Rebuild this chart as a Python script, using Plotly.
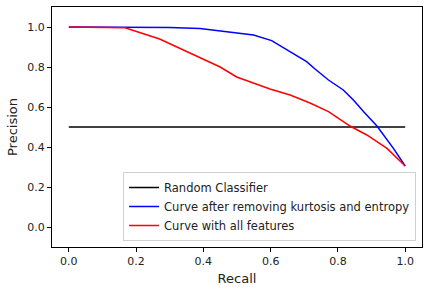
import plotly.graph_objects as go

blue_recall = [0.0, 0.2, 0.30, 0.39, 0.549, 0.603, 0.648, 0.707, 0.732, 0.772, 0.816, 0.846, 0.876, 0.916, 0.965, 1.0]
blue_precision = [1.0, 1.0, 0.998, 0.993, 0.96, 0.932, 0.885, 0.827, 0.79, 0.735, 0.685, 0.635, 0.577, 0.505, 0.393, 0.305]

red_recall = [0.0, 0.1, 0.167, 0.27, 0.35, 0.45, 0.499, 0.549, 0.598, 0.658, 0.717, 0.772, 0.836, 0.886, 0.946, 1.0]
red_precision = [1.0, 0.997, 0.996, 0.94, 0.877, 0.80, 0.75, 0.72, 0.69, 0.66, 0.62, 0.577, 0.505, 0.46, 0.393, 0.305]

random_recall = [0.0, 1.0]
random_precision = [0.5, 0.5]

x_ticks = [0.0, 0.2, 0.4, 0.6, 0.8, 1.0]
y_ticks = [0.0, 0.2, 0.4, 0.6, 0.8, 1.0]

fig = go.Figure()
fig.add_trace(go.Scatter(x=random_recall, y=random_precision, mode="lines",
                         line=dict(color="#000000", width=1.5), name="Random Classifier"))
fig.add_trace(go.Scatter(x=blue_recall, y=blue_precision, mode="lines",
                         line=dict(color="#0000ff", width=1.5),
                         name="Curve after removing kurtosis and entropy"))
fig.add_trace(go.Scatter(x=red_recall, y=red_precision, mode="lines",
                         line=dict(color="#ff0000", width=1.5), name="Curve with all features"))

axis_common = dict(showline=True, linecolor="black", linewidth=1, mirror=True,
                   showgrid=False, zeroline=False, ticks="outside", ticklen=4,
                   tickcolor="black", automargin=False,
                   tickfont=dict(family="DejaVu Sans", size=11, color="#222"))

fig.update_layout(
    width=429, height=292,
    margin=dict(l=52, r=7, t=7, b=45),
    paper_bgcolor="white", plot_bgcolor="white",
    xaxis=dict(range=[-0.05, 1.05], tickvals=x_ticks, ticktext=[f"{v:.1f}" for v in x_ticks],
               title=dict(text="Recall", font=dict(family="DejaVu Sans", size=13, color="#222"), standoff=6),
               **axis_common),
    yaxis=dict(range=[-0.1, 1.1], tickvals=y_ticks, ticktext=[f"{v:.1f}" for v in y_ticks],
               title=dict(text="Precision", font=dict(family="DejaVu Sans", size=13, color="#222"), standoff=6),
               **axis_common),
    legend=dict(x=0.984, y=0.025, xanchor="right", yanchor="bottom",
                bordercolor="#d0d0d0", borderwidth=1, bgcolor="rgba(255,255,255,0.8)",
                font=dict(family="DejaVu Sans", size=11.5, color="#222"),
                tracegroupgap=0, itemwidth=30),
    showlegend=True,
)

fig.write_html("out.html", config={"displayModeBar": False},
               post_script="document.body.style.margin='0';document.body.style.overflow='hidden';")
